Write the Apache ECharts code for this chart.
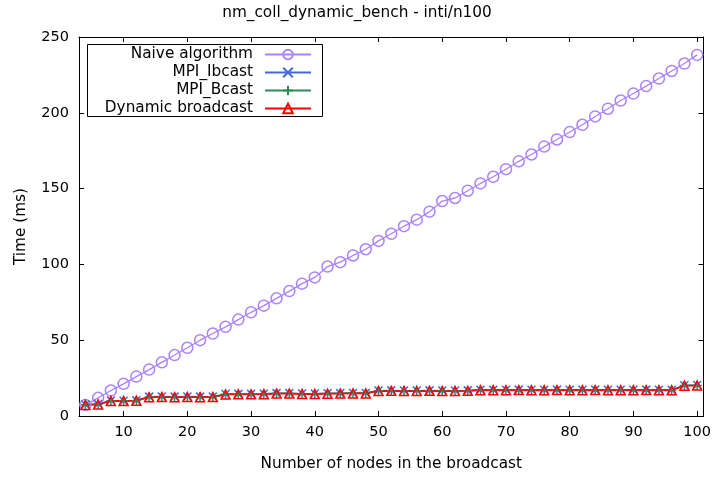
<!DOCTYPE html>
<html>
<head>
<meta charset="utf-8">
<script src="https://cdn.jsdelivr.net/npm/echarts@6/dist/echarts.min.js"></script>
<style>html,body{margin:0;padding:0;background:#fff}#c{width:714px;height:477px}</style>
</head>
<body>
<div id="c"></div>
<script>
var nodes = [4,6,8,10,12,14,16,18,20,22,24,26,28,30,32,34,36,38,40,42,44,46,48,50,52,54,56,58,60,62,64,66,68,70,72,74,76,78,80,82,84,86,88,90,92,94,96,98,100];
var naive = [7.3,12,16.8,21.2,26,30.6,35.4,40.2,45,50,54.4,58.8,63.6,68.4,72.8,77.6,82.4,87.3,91.4,98.6,101.5,105.9,110,115.5,120.2,125.2,129.5,134.8,141.8,143.8,148.6,153.4,157.8,162.8,168,172.5,177.7,182.4,187.3,192.1,197.6,202.7,208.1,212.7,217.6,222.6,227.6,232.5,238.2];
var ibcast = [7.6,7.9,10.2,10.1,10.3,12.8,12.9,12.8,12.9,12.8,12.9,14.5,14.6,14.6,14.7,15.1,15.1,14.8,14.8,15,15.1,15.2,15.2,16.8,16.9,16.8,16.8,16.9,16.8,16.8,16.9,17.3,17.3,17.3,17.4,17.3,17.3,17.4,17.3,17.3,17.4,17.3,17.3,17.3,17.4,17.3,17.3,20.3,20.4];
var bcast = [7.4,7.7,10.1,10,10.2,12.6,12.7,12.6,12.7,12.6,12.7,14.3,14.4,14.4,14.5,14.9,14.9,14.6,14.6,14.8,14.9,15,15,16.6,16.7,16.6,16.6,16.7,16.6,16.6,16.7,17.1,17.1,17.1,17.2,17.1,17.1,17.2,17.1,17.1,17.2,17.1,17.1,17.1,17.2,17.1,17.1,20.1,20.2];
var dynamic = [7.3,7.6,9.9,9.9,10.1,12.4,12.5,12.4,12.5,12.4,12.5,14.2,14.3,14.3,14.4,14.8,14.8,14.5,14.5,14.7,14.8,14.9,14.9,16.5,16.6,16.5,16.5,16.6,16.5,16.5,16.6,17,17,17,17.1,17,17,17.1,17,17,17.1,17,17,17,17.1,17,17,20,20.1];
var xTicks = [10,20,30,40,50,60,70,80,90,100];
var names = ['Naive algorithm','MPI_Ibcast','MPI_Bcast','Dynamic broadcast'];
var colors = ['#ab82ff','#4169e1','#2e8b57','#ff0000'];

function pairs(v){ return nodes.map(function(x,i){ return [x, v[i]]; }); }

var FONT = 'DejaVu Sans';
var chart = echarts.init(document.getElementById('c'), null, {renderer:'canvas'});

var symbols = [
  {symbol:'circle', size:11},
  {symbol:'path://M0,0L10,10M10,0L0,10', size:8},
  {symbol:'path://M5,0L5,10M0,5L10,5', size:9},
  {symbol:'triangle', size:9}
];
var datas = [naive, ibcast, bcast, dynamic];

var series = names.map(function(n,i){
  return {
    name: n, type:'line', data: pairs(datas[i]),
    symbol: symbols[i].symbol, symbolSize: symbols[i].size,
    showAllSymbol: true,
    lineStyle: {color: colors[i], width: i===3 ? 1.8 : 1.3},
    itemStyle: {color: 'rgba(255,255,255,0)', borderColor: colors[i], borderWidth: 1.5},
    emphasis: {disabled: true},
    animation: false
  };
});

var rows = [55, 73, 91, 109];
var legends = names.map(function(n,i){
  return {
    data: [n], orient:'vertical', align:'right', right: 714-312, top: rows[i]-8,
    padding: 0, itemWidth: 46, itemHeight: 12, selectedMode: false, z: 10,
    textStyle: {fontFamily: FONT, fontSize: 15.3, color:'#000', padding:[0,7,0,0]}
  };
});

var axisTickBase = {show:true, inside:true, length:5, lineStyle:{color:'#000', width:1}};

chart.setOption({
  animation: false,
  backgroundColor: '#fff',
  title: {text:'nm_coll_dynamic_bench - inti/n100', left:'center', top: 1,
    textStyle:{fontFamily:FONT, fontSize:15.3, fontWeight:'normal', color:'#000'}},
  legend: legends,
  grid: {left:79, right:10, top:37, bottom:59, containLabel:false},
  xAxis: [
    {type:'value', min:3, max:101, position:'bottom',
     name:'Number of nodes in the broadcast', nameLocation:'middle', nameGap:41,
     nameTextStyle:{fontFamily:FONT, fontSize:15.3, color:'#000'},
     axisLine:{show:true, onZero:false, lineStyle:{color:'#000', width:1}},
     axisTick: Object.assign({customValues: xTicks}, axisTickBase),
     axisLabel:{customValues: xTicks, fontFamily:FONT, fontSize:14.5, color:'#000', margin:9},
     splitLine:{show:false}},
    {type:'value', min:3, max:101, position:'top',
     axisLine:{show:true, onZero:false, lineStyle:{color:'#000', width:1}},
     axisTick: Object.assign({customValues: xTicks}, axisTickBase),
     axisLabel:{show:false}, splitLine:{show:false}}
  ],
  yAxis: [
    {type:'value', min:0, max:250, interval:50, position:'left',
     name:'Time (ms)', nameLocation:'middle', nameGap:50, nameRotate:90,
     nameTextStyle:{fontFamily:FONT, fontSize:15.3, color:'#000'},
     axisLine:{show:true, onZero:false, lineStyle:{color:'#000', width:1}},
     axisTick: axisTickBase,
     axisLabel:{fontFamily:FONT, fontSize:14.5, color:'#000', margin:10},
     splitLine:{show:false}},
    {type:'value', min:0, max:250, interval:50, position:'right',
     axisLine:{show:true, onZero:false, lineStyle:{color:'#000', width:1}},
     axisTick: axisTickBase, axisLabel:{show:false}, splitLine:{show:false}}
  ],
  graphic: [
    {type:'rect', shape:{x:87.5, y:44.5, width:235, height:72}, z: 1,
     style:{fill:'#fff', stroke:'#000', lineWidth:1}, silent:true}
  ],
  series: series
});
</script>
</body>
</html>
